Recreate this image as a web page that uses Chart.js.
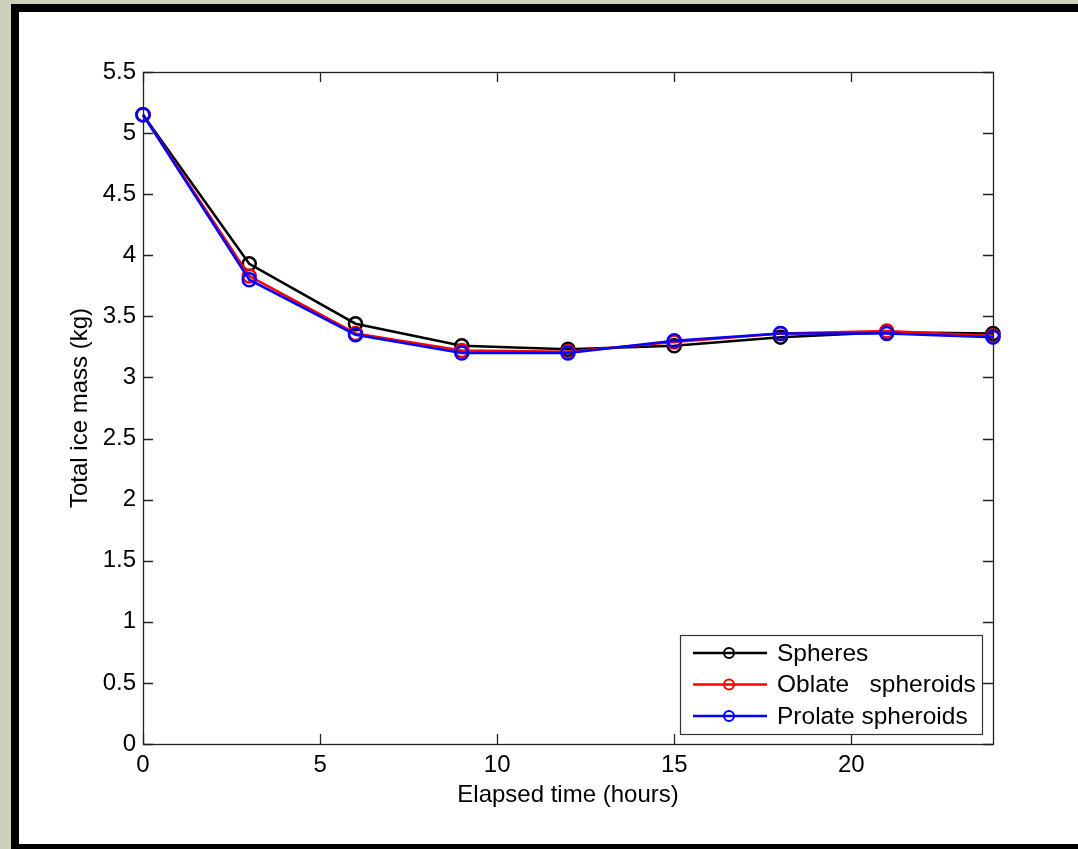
<!DOCTYPE html>
<html lang="en">

<head>
    <meta charset="UTF-8">
    <title>Total ice mass</title>
    <script src="https://cdn.jsdelivr.net/npm/chart.js@4.4.0/dist/chart.umd.min.js"></script>
    <style>
        body { margin: 0; background: #cdd1bc; }
        #frame { position: absolute; left: 11px; top: 4px; width: 1067px; height: 845px; background: #000; }
        #paper { position: absolute; left: 8px; top: 8px; right: 0; bottom: 5px; background: #fff; }
        #wrap { position: absolute; left: 0; top: 0; width: 1078px; height: 849px; }
    </style>
</head>

<body>
    <div id="frame"><div id="paper"></div></div>
    <div id="wrap"><canvas id="iceChart" width="1078" height="849"></canvas></div>

    <script>
        // elapsed time (hours)
        const hours = [0, 3, 6, 9, 12, 15, 18, 21, 24];

        // total ice mass (kg)
        const spheres = [5.15, 3.93, 3.44, 3.26, 3.23, 3.26, 3.33, 3.37, 3.36];
        const oblate = [5.15, 3.83, 3.36, 3.22, 3.21, 3.29, 3.36, 3.38, 3.34];
        const prolate = [5.15, 3.80, 3.35, 3.20, 3.20, 3.30, 3.36, 3.36, 3.33];

        const seriesNames = ['Spheres', 'Oblate   spheroids', 'Prolate spheroids'];
        const seriesColors = ['#000000', '#ff0000', '#0000ff'];

        const FONT = 'Liberation Sans, Arial, sans-serif';

        function toPoints(values) {
            return hours.map((h, i) => ({ x: h, y: values[i] }));
        }

        function makeDataset(idx, values) {
            return {
                label: seriesNames[idx],
                data: toPoints(values),
                borderColor: seriesColors[idx],
                borderWidth: 2.5,
                pointRadius: 6.5,
                pointBorderWidth: 2.5,
                pointBorderColor: seriesColors[idx],
                pointBackgroundColor: 'rgba(0,0,0,0)',
                tension: 0,
                clip: false,
                order: 3 - idx
            };
        }

        // box, inward tick marks on all four sides
        const axesBox = {
            id: 'axesBox',
            afterDatasetsDraw(chart) {
                const { ctx, chartArea: a, scales: { x, y } } = chart;
                const len = 10;
                ctx.save();
                ctx.strokeStyle = '#222';
                ctx.lineWidth = 1.3;
                ctx.beginPath();
                x.ticks.forEach(t => {
                    const px = Math.round(x.getPixelForValue(t.value)) + 0.5;
                    ctx.moveTo(px, a.bottom); ctx.lineTo(px, a.bottom - len);
                    ctx.moveTo(px, a.top); ctx.lineTo(px, a.top + len);
                });
                y.ticks.forEach(t => {
                    const py = Math.round(y.getPixelForValue(t.value)) + 0.5;
                    ctx.moveTo(a.left, py); ctx.lineTo(a.left + len, py);
                    ctx.moveTo(a.right, py); ctx.lineTo(a.right - len, py);
                });
                ctx.stroke();
                ctx.strokeRect(a.left + 0.5, a.top + 0.5, a.right - a.left, a.bottom - a.top);
                ctx.restore();
            }
        };

        // matlab style legend: line with a marker in the middle
        const lineLegend = {
            id: 'lineLegend',
            afterDraw(chart) {
                const { ctx, chartArea: a } = chart;
                const w = 302, h = 99;
                const left = a.right - 11 - w;
                const top = a.bottom - 10 - h;
                ctx.save();
                ctx.fillStyle = '#fff';
                ctx.fillRect(left, top, w, h);
                ctx.strokeStyle = '#333';
                ctx.lineWidth = 1.2;
                ctx.strokeRect(left + 0.5, top + 0.5, w, h);
                ctx.font = '24.5px ' + FONT;
                ctx.textBaseline = 'middle';
                chart.data.datasets.forEach((ds, i) => {
                    const cy = top + 18 + i * 31.5;
                    ctx.strokeStyle = ds.borderColor;
                    ctx.lineWidth = 2.5;
                    ctx.beginPath();
                    ctx.moveTo(left + 13, cy);
                    ctx.lineTo(left + 87, cy);
                    ctx.stroke();
                    ctx.lineWidth = 2;
                    ctx.beginPath();
                    ctx.arc(left + 49, cy, 5, 0, Math.PI * 2);
                    ctx.stroke();
                    ctx.fillStyle = '#000';
                    ctx.fillText(ds.label, left + 97, cy + 1);
                });
                ctx.restore();
            }
        };

        const ctx = document.getElementById('iceChart').getContext('2d');
        const chart = new Chart(ctx, {
            type: 'line',
            data: {
                datasets: [
                    makeDataset(0, spheres),
                    makeDataset(1, oblate),
                    makeDataset(2, prolate)
                ]
            },
            options: {
                responsive: false,
                animation: false,
                devicePixelRatio: 1,
                layout: { padding: { left: 20, top: 72, right: 85, bottom: 0 } },
                plugins: {
                    legend: { display: false },
                    tooltip: { enabled: false }
                },
                scales: {
                    x: {
                        type: 'linear',
                        min: 0,
                        max: 24,
                        grid: { display: false, drawTicks: false },
                        border: { display: false },
                        ticks: {
                            stepSize: 5,
                            includeBounds: false,
                            padding: 7,
                            color: '#000',
                            font: { family: FONT, size: 24 },
                            callback: v => String(v)
                        },
                        title: {
                            display: true,
                            text: 'Elapsed time (hours)',
                            color: '#000',
                            font: { family: FONT, size: 24 },
                            padding: { top: 0, bottom: 39 }
                        },
                        afterFit(scale) { scale.height = 105; }
                    },
                    y: {
                        min: 0,
                        max: 5.5,
                        grid: { display: false, drawTicks: false },
                        border: { display: false },
                        ticks: {
                            stepSize: 0.5,
                            padding: 7,
                            color: '#000',
                            font: { family: FONT, size: 24 },
                            callback: v => String(v)
                        },
                        title: {
                            display: true,
                            text: 'Total ice mass (kg)',
                            color: '#000',
                            font: { family: FONT, size: 24 },
                            padding: { top: 46, bottom: 0 }
                        },
                        afterFit(scale) { scale.width = 123; }
                    }
                }
            },
            plugins: [axesBox, lineLegend]
        });
    </script>
</body>

</html>
